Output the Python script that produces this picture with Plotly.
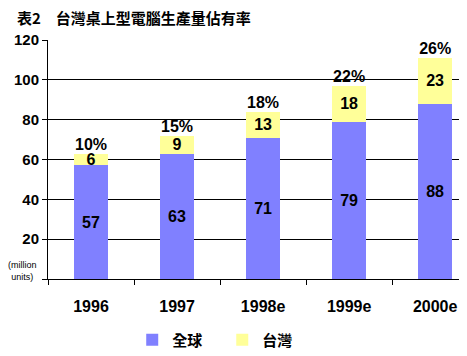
import plotly.graph_objects as go

years = ["1996", "1997", "1998e", "1999e", "2000e"]
global_vals = [57, 63, 71, 79, 88]
taiwan_vals = [6, 9, 13, 18, 23]
share_labels = ["10%", "15%", "18%", "22%", "26%"]
y_ticks = [0, 20, 40, 60, 80, 100, 120]
y_ticktext = ["", "<b>20</b>", "<b>40</b>", "<b>60</b>", "<b>80</b>", "<b>100</b>", "<b>120</b>"]

totals = [g + t for g, t in zip(global_vals, taiwan_vals)]
num_font = dict(family="Liberation Sans, Arial", size=16, color="black")

# The page body has an 8px default margin; the figure is sized so it fills the window.
W, H = 459, 348

fig = go.Figure()
fig.add_trace(go.Bar(
    x=years, y=global_vals, name="<b>全球</b>　", marker=dict(color="#8080FF", line_width=0),
    text=[f"<b>{v}</b>" for v in global_vals], textposition="inside", insidetextanchor="middle",
    textangle=0, constraintext="none", textfont=num_font, width=0.4,
))
fig.add_trace(go.Bar(
    x=years, y=taiwan_vals, name="<b>台灣</b>", marker=dict(color="#FFFF99", line_width=0),
    text=[f"<b>{v}</b>" for v in taiwan_vals], textposition="inside", insidetextanchor="middle",
    textangle=0, constraintext="none", textfont=num_font, width=0.4,
))
fig.add_trace(go.Scatter(
    x=years, y=totals, mode="text", text=[f"<b>{s}</b>" for s in share_labels],
    textposition="top center", textfont=num_font, showlegend=False, hoverinfo="skip",
    cliponaxis=False,
))

fig.update_layout(
    width=W, height=H, barmode="stack",
    margin=dict(l=40, r=0, t=32, b=77, autoexpand=False),
    plot_bgcolor="white", paper_bgcolor="white",
    uniformtext=dict(mode=False),
    title=dict(text="<b>表2　台灣桌上型電腦生產量佔有率</b>", x=9 / W, xanchor="left",
               y=1 - 11 / H, yanchor="middle",
               font=dict(family="Noto Sans CJK TC", size=15, color="black")),
    showlegend=True,
    legend=dict(orientation="h", x=0.201, xanchor="left", y=-0.255, yanchor="middle",
                font=dict(family="Noto Sans CJK TC", size=15, color="black"),
                itemwidth=30, traceorder="normal", bgcolor="rgba(0,0,0,0)"),
    xaxis=dict(range=[-0.5, 4.37], showline=True, linecolor="black", linewidth=1,
               ticks="outside", tickson="boundaries", ticklen=5, tickcolor="black",
               tickfont=num_font, ticklabelstandoff=13, showgrid=False, mirror=False,
               automargin=False,
               tickvals=years, ticktext=[f"<b>{y}</b>" for y in years]),
    yaxis=dict(range=[0, 120], tickvals=y_ticks, ticktext=y_ticktext,
               showline=True, linecolor="black", linewidth=1,
               ticks="outside", ticklen=5, tickcolor="black",
               tickfont=dict(family="Liberation Sans, Arial", size=15, color="black"),
               showgrid=True, gridcolor="black", gridwidth=1, zeroline=False,
               automargin=False),
    bargap=0.6,
)
fig.add_annotation(text="(million<br>units)", xref="paper", yref="y", x=0, y=0,
                   xanchor="right", yanchor="bottom", xshift=-9, yshift=-5, showarrow=False,
                   align="center", font=dict(family="Liberation Sans, Arial", size=9, color="black"))

fig.write_html("out.html")
